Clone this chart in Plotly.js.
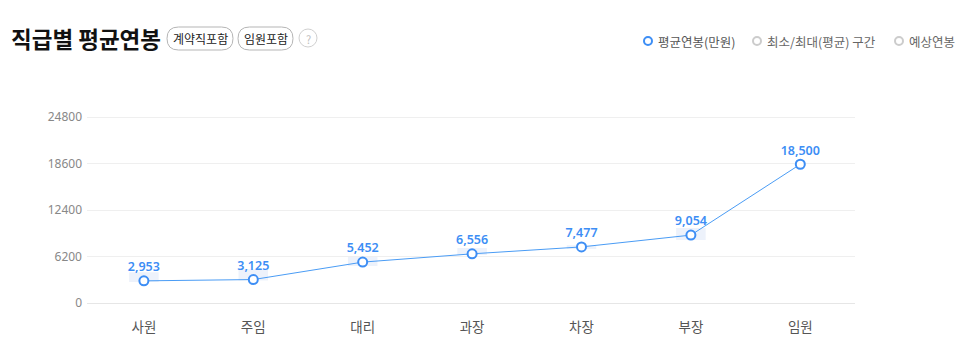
<!DOCTYPE html>
<html>
<head>
<meta charset="utf-8">
<script src="https://cdn.plot.ly/plotly-3.0.1.min.js"></script>
<style>html,body{margin:0;padding:0;background:#fff;}#chart{width:966px;height:361px;}</style>
</head>
<body>
<div id="chart"></div>
<script>
// ---- data ----
const categories = ['사원', '주임', '대리', '과장', '차장', '부장', '임원'];
const avgSalary = [2953, 3125, 5452, 6556, 7477, 9054, 18500];
const rangeMin = [2800, 3000, 4930, 6400, 7200, 8400, null];
const rangeMax = [4100, 4500, 6130, 7330, 7700, 10000, null];
const yTickVals = [0, 6200, 12400, 18600, 24800];
const yTickText = ['0', '6200', '12400', '18600', '24800'];
const titleText = '직급별 평균연봉';
const badges = ['계약직포함', '임원포함'];
const legendLabels = ['평균연봉(만원)', '최소/최대(평균) 구간', '예상연봉'];

// ---- layout geometry (pixels) ----
const W = 966, H = 361;
const mL = 87, mR = 111, mT = 112, mB = 58;
const pw = W - mL - mR, ph = H - mT - mB;
const yTop = 24800 * ph / 186;
const px = x => (x - mL) / pw;
const py = y => (H - mB - y) / ph;
const fmt = v => v.toLocaleString('en-US');
const KR = '"Noto Sans CJK KR", "Noto Sans", sans-serif';

function roundRect(x0, y0, x1, y1, r) {
  const P = (x, y) => px(x) + ',' + py(y);
  return 'M' + P(x0 + r, y0) + ' L' + P(x1 - r, y0) + ' Q' + P(x1, y0) + ' ' + P(x1, y0 + r) +
    ' L' + P(x1, y1 - r) + ' Q' + P(x1, y1) + ' ' + P(x1 - r, y1) +
    ' L' + P(x0 + r, y1) + ' Q' + P(x0, y1) + ' ' + P(x0, y1 - r) +
    ' L' + P(x0, y0 + r) + ' Q' + P(x0, y0) + ' ' + P(x0 + r, y0) + ' Z';
}

const rangeBar = {
  type: 'bar', x: categories,
  base: rangeMin,
  y: rangeMin.map((m, i) => (m == null ? null : rangeMax[i] - m)),
  width: 0.27, marker: { color: '#edf2fb', line: { width: 0 } },
  hoverinfo: 'skip', showlegend: false
};
const avgLine = {
  type: 'scatter', mode: 'lines+markers+text', x: categories, y: avgSalary,
  text: avgSalary.map(fmt), textposition: 'top center',
  textfont: { family: '"Noto Sans", ' + KR, size: 12.5, color: '#3d8ef5', weight: 600 },
  line: { color: '#4a9cf5', width: 1 },
  marker: { symbol: 'circle', size: 9, color: '#ffffff', line: { color: '#3d8ef5', width: 2 } },
  cliponaxis: false, showlegend: false, hoverinfo: 'x+y'
};

const shapes = [];
const annotations = [];
// title
annotations.push({ xref: 'paper', yref: 'paper', x: px(9), y: py(38), xanchor: 'left', yanchor: 'middle',
  text: '<b>' + titleText + '</b>', showarrow: false, font: { family: KR, size: 22.5, color: '#111' } });
// badges
const badgeBoxes = [[167, 233], [238, 293]];
badges.forEach((b, i) => {
  const [a, c] = badgeBoxes[i];
  shapes.push({ type: 'path', xref: 'paper', yref: 'paper', path: roundRect(a, 27, c, 50, 11.5),
    line: { color: '#b5b5b5', width: 1 }, fillcolor: '#ffffff' });
  annotations.push({ xref: 'paper', yref: 'paper', x: px((a + c) / 2), y: py(38.5), xanchor: 'center', yanchor: 'middle',
    text: b, showarrow: false, font: { family: KR, size: 12, color: '#222' } });
});
// help circle
shapes.push({ type: 'circle', xref: 'paper', yref: 'paper', x0: px(299), x1: px(317), y0: py(47), y1: py(29),
  line: { color: '#d0d0d0', width: 1 }, fillcolor: '#ffffff' });
annotations.push({ xref: 'paper', yref: 'paper', x: px(308), y: py(38.5), xanchor: 'center', yanchor: 'middle',
  text: '?', showarrow: false, font: { family: KR, size: 11, color: '#c0c0c0' } });
// legend
const legendPos = [[648, '#3d8ef5', '#555'], [757, '#cccccc', '#666'], [899, '#cccccc', '#666']];
legendLabels.forEach((l, i) => {
  const [cx, col, tc] = legendPos[i];
  shapes.push({ type: 'circle', xref: 'paper', yref: 'paper', x0: px(cx - 4), x1: px(cx + 4), y0: py(45), y1: py(37),
    line: { color: col, width: 2 }, fillcolor: '#ffffff' });
  annotations.push({ xref: 'paper', yref: 'paper', x: px(cx + 8), y: py(41), xanchor: 'left', yanchor: 'middle',
    text: l, showarrow: false, font: { family: KR, size: 12.5, color: tc } });
});

const layout = {
  width: W, height: H,
  margin: { l: mL, r: mR, t: mT, b: mB, pad: 0 },
  paper_bgcolor: '#fff', plot_bgcolor: '#fff',
  showlegend: false,
  xaxis: { type: 'category', range: [-0.52, 6.5], showgrid: false, zeroline: false, showline: false,
    ticks: '', ticklabelstandoff: 14, tickfont: { family: KR, size: 13.5, color: '#555' }, fixedrange: true },
  yaxis: { range: [0, yTop], tickvals: yTickVals, ticktext: yTickText, showgrid: true, gridcolor: '#efefef',
    gridwidth: 1, zeroline: true, zerolinecolor: '#e6e6e6', zerolinewidth: 1, showline: false, ticks: '',
    ticklabelstandoff: 4, tickfont: { family: '"Noto Sans", ' + KR, size: 12, color: '#888' }, fixedrange: true },
  shapes: shapes, annotations: annotations
};

Plotly.newPlot('chart', [rangeBar, avgLine], layout, { displayModeBar: false, staticPlot: true });
</script>
</body>
</html>
